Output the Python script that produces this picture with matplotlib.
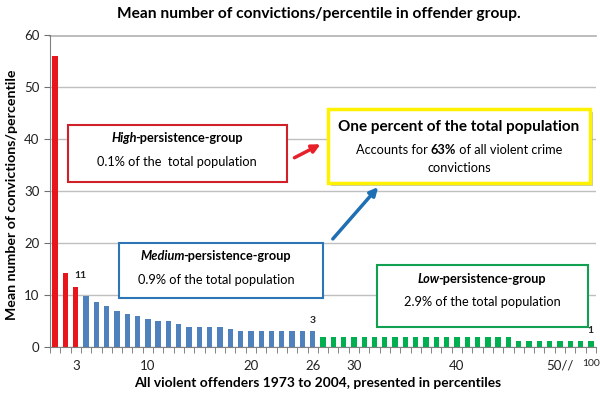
import matplotlib
matplotlib.use('Agg')
import matplotlib.pyplot as plt
import numpy as np
from matplotlib.patches import Rectangle, FancyArrowPatch

plt.rcParams['font.family'] = ['Lato', 'DejaVu Sans']

# mean convictions per percentile
high_vals = [56.0, 14.3, 11.6]
medium_vals = [9.8, 8.7, 7.8, 7.0, 6.3, 6.0, 5.4, 5.0, 5.0, 4.4, 3.9, 3.9,
               3.9, 3.9, 3.4, 3.0, 3.0, 3.0, 3.0, 3.0, 3.0, 3.0, 3.0]
low_vals = [2.0, 2.0, 2.0, 2.0, 2.0, 2.0, 2.0, 2.0, 2.0, 2.0, 2.0, 2.0,
            2.0, 2.0, 2.0, 2.0, 2.0, 2.0, 2.0,
            1.2, 1.2, 1.2, 1.2, 1.2, 1.2, 1.2, 1.2]

tick_pos = [3, 10, 20, 26, 30, 40, 50, 53]
tick_labels = ['3', '10', '20', '26', '30', '40', '50//', '100']
value_labels = [(3, '11'), (26, '3'), (53, '1')]

RED = '#E8151C'
BLUE = '#4F81BD'
GREEN = '#00B050'

W, H = 600, 396
fig = plt.figure(figsize=(6, 3.96), dpi=100)


def fx(px):
    return px / W


def fy(py):
    return 1 - py / H


ax = fig.add_axes([fx(50), fy(347), 546 / W, 312 / H])

all_vals = high_vals + medium_vals + low_vals
n = len(all_vals)
x_high = np.arange(1, len(high_vals) + 1)
x_med = np.arange(len(high_vals) + 1, len(high_vals) + len(medium_vals) + 1)
x_low = np.arange(len(high_vals) + len(medium_vals) + 1, n + 1)

ax.bar(x_high, high_vals, width=0.52, color=RED, zorder=2)
ax.bar(x_med, medium_vals, width=0.52, color=BLUE, zorder=2)
ax.bar(x_low, low_vals, width=0.52, color=GREEN, zorder=2)

ax.set_xlim(0.5, n + 0.5)
ax.set_ylim(0, 60)
ax.set_yticks(range(0, 61, 10))
ax.yaxis.grid(True, color='#BFBFBF', lw=1)
ax.axhline(59.9, color='#B0B0B0', lw=1.2, clip_on=False, zorder=0)
ax.set_axisbelow(True)

ax.set_xticks(tick_pos, tick_labels)
ax.set_xticks(np.arange(0.5, n + 1), minor=True)
ax.tick_params(axis='x', which='major', length=0, pad=9, labelsize=9.5,
               labelcolor='#222222')
ax.tick_params(axis='x', which='minor', length=4, direction='out',
               color='#707070')
ax.tick_params(axis='y', length=4, direction='out', color='#707070',
               labelsize=9.5, labelcolor='#222222')
ax.get_xticklabels()[-1].set_fontsize(7.5)

for s in ['top', 'right']:
    ax.spines[s].set_visible(False)
for s in ['left', 'bottom']:
    ax.spines[s].set_color('#808080')

lookup = dict(zip(range(1, n + 1), all_vals))
for pos, lab in value_labels:
    xoff = 0.45 if pos == 3 else 0
    ax.text(pos + xoff, lookup[pos] + 1.2, lab, ha='center', va='bottom',
            fontsize=7.5, weight='bold', color='#222222')

fig.text(fx(319), fy(14), 'Mean number of convictions/percentile in offender group.',
         ha='center', va='center', weight='bold', fontsize=11.2)
fig.text(fx(12), fy(195), 'Mean number of convictions/percentile',
         ha='center', va='center', rotation=90, weight='bold', fontsize=10.2)
fig.text(fx(318), fy(383), 'All violent offenders 1973 to 2004, presented in percentiles',
         ha='center', va='center', weight='bold', fontsize=9.9)

renderer = fig.canvas.get_renderer()


def rich_line(parts, cx, cy, size):
    """Write several differently styled pieces centred on (cx, cy) pixels."""
    texts = []
    widths = []
    for s, kw in parts:
        t = fig.text(0, fy(cy), s, fontsize=size, ha='left', va='center',
                     zorder=5, **kw)
        w = t.get_window_extent(renderer).width
        if kw.get('style') == 'italic':
            w -= 1.5
        widths.append(w)
        texts.append(t)
    x = cx - sum(widths) / 2
    for t, w in zip(texts, widths):
        t.set_x(fx(x))
        x += w


def box(left, top, right, bottom, color, lw=1.5, shadow=False):
    if shadow:
        fig.add_artist(Rectangle((fx(left + 3), fy(bottom + 3)),
                                 (right - left) / W, (bottom - top) / H,
                                 transform=fig.transFigure, facecolor='#A0A0A0',
                                 edgecolor='none', alpha=0.6, zorder=3))
    fig.add_artist(Rectangle((fx(left), fy(bottom)), (right - left) / W,
                             (bottom - top) / H, transform=fig.transFigure,
                             facecolor='white', edgecolor=color, lw=lw, zorder=4))


# high persistence box
box(68, 125, 287, 182, '#D0202A')
rich_line([('High', dict(style='italic', weight='bold')),
           ('-persistence-group', dict(weight='bold'))], 177, 138, 9.2)
rich_line([('0.1% of the  total population', {})], 177, 162, 9.2)

# one percent box
box(328, 109, 590, 183, '#FFF200', lw=2.5, shadow=True)
rich_line([('One percent of the total population', dict(weight='bold'))],
          459, 127, 11)
rich_line([('Accounts for ', {}), ('63%', dict(weight='bold')),
           (' of all violent crime', {})], 459, 150, 9.2)
rich_line([('convictions', {})], 459, 168, 9.2)

# medium persistence box
box(119, 243, 323, 298, '#2E75B6')
rich_line([('Medium', dict(style='italic', weight='bold')),
           ('-persistence-group', dict(weight='bold'))], 216, 256, 9.2)
rich_line([('0.9% of the total population', {})], 216, 280, 9.2)

# low persistence box
box(377, 265, 588, 327, '#10A050')
rich_line([('Low', dict(style='italic', weight='bold')),
           ('-persistence-group', dict(weight='bold'))], 482, 279, 9.2)
rich_line([('2.9% of the total population', {})], 482, 302, 9.2)

# arrows
fig.add_artist(FancyArrowPatch((fx(292), fy(159)), (fx(323), fy(143)),
                               transform=fig.transFigure, arrowstyle='-|>',
                               mutation_scale=12, lw=2.5, color='#E8202A', zorder=6))
fig.add_artist(FancyArrowPatch((fx(331), fy(241)), (fx(380), fy(185)),
                               transform=fig.transFigure, arrowstyle='-|>',
                               mutation_scale=12, lw=2.5, color='#1F6FB5', zorder=6))

fig.savefig('out.png', dpi=100)
